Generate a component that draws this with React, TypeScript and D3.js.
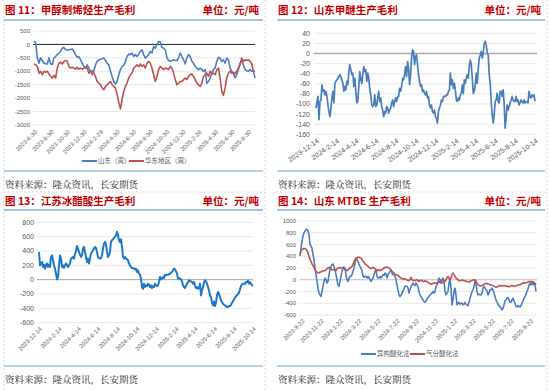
import React from 'react';
import * as d3 from 'd3';

const CJK = '"Noto Sans CJK SC", "Noto Sans", sans-serif';
const TICK_FONT = '"Liberation Sans", "Noto Sans", sans-serif';
const SOURCE = '资料来源：隆众资讯，长安期货';

// 图11 甲醇制烯烃生产毛利
const p1Labels = ['2023-6-30', '2023-8-30', '2023-10-30', '2023-12-30', '2024-2-29', '2024-4-30', '2024-6-30',
  '2024-8-30', '2024-10-30', '2024-12-30', '2025-2-28', '2025-4-30', '2025-6-30', '2025-8-30'];
const p1YTicks = [500, 0, -500, -1000, -1500, -2000, -2500, -3000];
const p1Shandong = [130, 50, -500, -700, -500, -600, -700, -720, -730, -500, -730, -750, -500, -450, -380, -320, -260, -140, -110, -200,
  -210, -200, -190, -170, -260, -380, -480, -450, -570, -700, -820, -880, -760, -880, -1000, -1130, -1000, -760, -630, -580,
  -550, -530, -510, -600, -700, -760, -1000, -1190, -1380, -1480, -1380, -1130, -940, -820, -780, -630, -450, -360, -380, -320,
  -450, -380, -450, -360, -260, -200, -380, -510, -450, -380, -260, -320, -75, -140, -10, 110, 90, -110, -140, -200,
  -500, -600, -630, -600, -570, -600, -600, -500, -320, -450, -570, -730, -500, -380, -450, -630, -700, -820, -880, -940,
  -880, -940, -1000, -940, -1440, -1380, -1250, -1070, -940, -880, -630, -480, -510, -630, -570, -700, -510, -570, -880, -1000,
  -1070, -1250, -1130, -940, -700, -600, -760, -940, -980, -1000, -940, -1000, -980, -1250];
const p1Huadong = [-730, -760, -820, -1070, -1000, -1130, -1000, -1040, -1000, -1100, -1190, -1250, -1150, -1250, -880, -700, -660, -730, -630, -600,
  -630, -820, -880, -850, -880, -920, -850, -920, -880, -920, -880, -850, -880, -1070, -1000, -980, -1070, -1190, -1380, -1440,
  -1500, -1620, -1690, -1560, -1500, -1440, -1380, -1500, -1560, -1620, -1870, -2150, -2400, -2060, -1750, -1560, -1440, -1250, -1130, -1070,
  -880, -820, -760, -820, -730, -820, -760, -880, -700, -630, -700, -880, -1130, -1380, -1190, -940, -820, -880, -940, -880,
  -900, -940, -820, -880, -1070, -1310, -1500, -1440, -1380, -1380, -1310, -1250, -1310, -1190, -1130, -1100, -1190, -1310, -1440, -1500,
  -1560, -1440, -1190, -1130, -1070, -1190, -1000, -1100, -1070, -1130, -940, -880, -1250, -1750, -1900, -1620, -1250, -1070, -1000, -1070,
  -1040, -1100, -1000, -880, -760, -510, -630, -570, -600, -570, -630, -700, -1000, -1000];

// 图12 山东甲醚生产毛利
const p2Labels = ['2023-12-14', '2024-2-14', '2024-4-14', '2024-6-14', '2024-8-14', '2024-10-14', '2024-12-14',
  '2025-2-14', '2025-4-14', '2025-6-14', '2025-8-14', '2025-10-14'];
const p2YTicks = [40, 20, 0, -20, -40, -60, -80, -100, -120, -140, -160];
const p2Margin = [-108, -95, -85, -131, -95, -92, -62, -75, -72, -82, -75, -85, -102, -115, -125, -108, -88, -75, -98, -59,
  -55, -52, -49, -46, -42, -46, -52, -59, -75, -65, -72, -55, -62, -36, -22, -32, -42, -39, -65, -49,
  -75, -98, -95, -65, -36, -52, -59, -42, -26, -36, -32, -55, -39, -49, -69, -82, -102, -105, -102, -82,
  -105, -102, -88, -75, -95, -88, -105, -112, -125, -115, -118, -105, -108, -118, -112, -108, -98, -92, -105, -95,
  -88, -95, -85, -85, -69, -75, -65, -49, -52, -42, -26, -46, -16, -29, -62, -42, -9, 7, 4, -22,
  -6, -3, -22, -42, -55, -65, -62, -75, -72, -79, -82, -75, -88, -85, -102, -108, -102, -115, -118, -112,
  -125, -128, -138, -115, -108, -102, -92, -95, -85, -85, -85, -82, -82, -75, -72, -39, -62, -52, -69, -59,
  -72, -92, -95, -88, -92, -82, -79, -62, -79, -52, -59, -49, -42, -49, -26, -13, -22, -49, -79, -75,
  -62, -39, -59, -29, -9, -3, 4, -9, 1, 20, 24, 17, 1, -3, -42, -59, -95, -121, -138, -121,
  -95, -92, -79, -95, -98, -75, -75, -85, -72, -98, -148, -128, -102, -112, -105, -98, -92, -85, -92, -95,
  -95, -85, -95, -92, -102, -98, -92, -95, -98, -92, -98, -95, -95, -98, -75, -85, -88, -82, -85, -82, -95];

// 图13 江苏冰醋酸生产毛利
const p3Labels = p2Labels;
const p3YTicks = [800, 600, 400, 200, 0, -200, -400, -600];
const p3Margin = [387, 200, 224, 247, 177, 210, 154, 200, 224, 177, 210, 177, 317, 340, 270, 200, 154, 84, 5, 37,
  200, 340, 294, 177, 200, 163, 200, 224, 200, 177, 200, 224, 294, 303, 317, 294, 363, 396, 471, 433,
  387, 350, 317, 340, 433, 457, 387, 317, 247, 294, 224, 294, 363, 387, 410, 433, 457, 443, 387, 317,
  303, 294, 303, 340, 433, 503, 527, 489, 387, 317, 340, 387, 527, 550, 564, 583, 597, 620, 668, 620,
  550, 527, 564, 457, 317, 294, 317, 294, 284, 270, 224, 200, 177, 163, 163, 154, 144, 154, 107, 130,
  84, 70, 14, -103, -126, -56, -103, -79, -89, -56, -70, -103, -79, -117, -89, -103, -56, -79, -89, -79,
  -33, 37, 5, 14, 37, 23, 70, 61, 70, 70, 79, 79, 98, 107, 130, 154, 144, 117, 84, 14,
  23, 14, 5, -23, -79, -103, -117, -89, -56, -33, -9, -23, -23, -33, -56, -33, -79, -117, -103, -126,
  -117, -56, -219, -149, -103, -33, -9, -23, -56, -103, -149, -219, -242, -322, -359, -303, -368, -322, -219, -172,
  -196, -242, -289, -312, -336, -350, -359, -368, -382, -382, -368, -368, -350, -322, -303, -275, -256, -228, -219, -196,
  -182, -135, -89, -65, -56, -56, -61, -33, -33, -14, -56, -33, -56, -79, -89];

// 图14 山东MTBE生产毛利
const p4Labels = ['2023-9-22', '2023-11-22', '2024-1-22', '2024-3-22', '2024-5-22', '2024-7-22', '2024-9-22',
  '2024-11-22', '2025-1-22', '2025-3-22', '2025-5-22', '2025-7-22', '2025-9-22'];
const p4YTicks = [1000, 800, 600, 400, 200, 0, -200, -400, -600];
const p4Isomer = [400, 542, 657, 742, 800, 828, 857, 857, 828, 771, 600, 571, 542, 428, 343, 200, 86, -29, -143, -228,
  -257, -285, -200, -114, -29, 29, 0, -57, -29, 86, 171, 228, 257, 268, 228, 171, 86, 0, -86, -114,
  -29, 57, 143, 211, 211, 200, 86, 0, -29, 29, 57, 57, 86, 143, 200, 285, 371, 343, 314, 268,
  228, 200, 143, 68, 40, 57, 57, 29, 57, 40, 0, -29, 0, 29, 86, 143, 171, 57, 29, 29,
  57, 29, 57, 86, 74, 114, 97, 29, 86, 114, 143, 154, 114, 86, 86, 57, 0, -86, -171, -257,
  -285, -268, -228, -188, -154, -114, -103, -114, -143, -228, -171, -114, -86, -57, -86, -97, -57, -86, -114, -200,
  -257, -285, -314, -343, -371, -383, -360, -325, -303, -285, -257, -245, -228, -200, -228, -200, -114, -86, -29, 29,
  0, -29, 0, 29, -29, -200, -257, -228, -200, -57, 29, -143, -428, -343, -200, -143, -257, -428, -400, -383,
  -417, -400, -400, -428, -417, -383, -417, -428, -440, -383, -314, -257, -200, -171, -114, -29, -57, -200, -257, -245,
  -257, -257, -228, -143, -114, -143, -171, -188, -257, -228, -171, -171, -143, -171, -228, -285, -343, -383, -417, -440,
  -457, -485, -514, -485, -428, -360, -343, -314, -303, -343, -383, -383, -343, -314, -360, -400, -457, -457, -440, -457,
  -457, -440, -400, -360, -314, -285, -245, -200, -154, -97, -57, -86, -29, -86, -57, -86, -200];
const p4GasSep = [428, 497, 514, 525, 531, 531, 520, 497, 457, 400, 343, 314, 268, 245, 211, 171, 143, 131, 114, 114,
  131, 131, 143, 154, 154, 154, 171, 188, 200, 211, 200, 188, 171, 171, 171, 171, 154, 188, 200, 200,
  211, 200, 200, 200, 188, 171, 171, 154, 171, 188, 200, 211, 228, 257, 303, 343, 360, 371, 383, 383,
  371, 371, 343, 314, 303, 268, 257, 245, 228, 211, 200, 188, 200, 211, 200, 188, 171, 171, 154, 171,
  154, 171, 171, 188, 200, 211, 211, 211, 211, 200, 188, 171, 143, 131, 114, 97, 86, 74, 74, 57,
  40, 29, 17, 17, 6, 17, 6, -6, -6, -17, 0, 40, 0, -17, -6, -17, -6, 0, -17, -29,
  -17, -6, -17, -29, -29, -17, -29, -29, -40, -57, -69, -74, -74, -63, -57, -57, -57, -63, -57, -40,
  -29, -57, -57, -29, -17, -29, 0, 40, 57, 29, 0, 29, 86, 114, 86, 57, 29, 17, 0, -17,
  -17, -11, -6, -6, -17, -17, -29, -29, -29, -40, -29, -17, -11, -6, 0, -6, -17, -57, -86, -97,
  -103, -108, -97, -86, -74, -69, -63, -63, -69, -74, -86, -86, -97, -97, -108, -120, -131, -120, -114, -108,
  -97, -97, -108, -103, -97, -103, -108, -108, -114, -120, -114, -103, -97, -108, -114, -108, -103, -97, -86, -86,
  -86, -74, -63, -57, -51, -57, -51, -46, -40, -29, -29, -29, -40, -29, -46, -57, -86];

const parseDate = (s: string) => {
  const [y, m, d] = s.split('-').map(Number);
  return new Date(y, m - 1, d);
};

// spread n points evenly between first and last date
const datesFor = (n: number, start: string, end: string) => {
  const s = parseDate(start).getTime();
  const e = parseDate(end).getTime();
  return d3.range(n).map(i => new Date(s + ((e - s) * i) / (n - 1)));
};

interface Series { values: number[]; color: string; name: string; width: number }

interface PanelProps {
  left: number; right: number; top: number;
  title: string;
  plot: { l: number; r: number; t: number; b: number; gl: number; gr: number };
  yDomain: [number, number]; yTicks: number[]; yLabelX: number; yFont: number;
  dateStart: string; dateEnd: string;
  xLabels: string[]; xLabelY: number; xAngle: number; xFont: number;
  series: Series[];
  zeroColor: string; zeroWidth: number;
  legend?: { y: number; xs: number[] };
  sepY: number; sourceY: number;
}

function Panel(p: PanelProps) {
  const y = d3.scaleLinear().domain(p.yDomain).range([p.plot.b, p.plot.t]);
  const x = d3.scaleTime()
    .domain([parseDate(p.dateStart), parseDate(p.dateEnd)])
    .range([p.plot.l, p.plot.r]);
  const titleY = p.top === 0 ? 14 : p.top + 15;

  return (
    <g>
      <text x={p.left + 1} y={titleY} fontFamily={CJK} fontWeight="bold" fontSize={10.5} fill="#C00000">{p.title}</text>
      <text x={p.right - 4} y={titleY} fontFamily={CJK} fontWeight="bold" fontSize={10.5} fill="#C00000" textAnchor="end">单位：元/吨</text>
      <line x1={p.left} x2={p.right} y1={p.top + 20} y2={p.top + 20} stroke="#9DC3E6" strokeWidth={2} />

      {p.yTicks.filter(t => t !== 0).map(t => (
        <line key={'g' + t} x1={p.plot.gl} x2={p.plot.gr} y1={y(t)} y2={y(t)} stroke="#e3e3e3" strokeWidth={0.8} />
      ))}
      <line x1={p.plot.gl} x2={p.plot.gr} y1={y(0)} y2={y(0)} stroke={p.zeroColor} strokeWidth={p.zeroWidth} />

      {p.yTicks.map(t => (
        <text key={'y' + t} x={p.yLabelX} y={y(t)} dy="0.35em" textAnchor="end" fontFamily={TICK_FONT} fontSize={p.yFont} fill="#595959">{t}</text>
      ))}

      {p.xLabels.map(l => (
        <text key={l} transform={`translate(${x(parseDate(l)) + 2},${p.xLabelY}) rotate(${p.xAngle})`} dy="0.35em" textAnchor="end"
          fontFamily={TICK_FONT} fontSize={p.xFont} fill="#595959">{l}</text>
      ))}

      {p.series.map(s => {
        const dates = datesFor(s.values.length, p.dateStart, p.dateEnd);
        const line = d3.line<number>().x((_, i) => x(dates[i])).y(v => y(v)).curve(d3.curveLinear);
        return <path key={s.name} d={line(s.values) ?? ''} fill="none" stroke={s.color} strokeWidth={s.width} strokeLinejoin="round" />;
      })}

      {p.legend && p.series.map((s, i) => (
        <g key={'lg' + s.name}>
          <line x1={p.legend!.xs[i]} x2={p.legend!.xs[i] + 15} y1={p.legend!.y} y2={p.legend!.y} stroke={s.color} strokeWidth={2} />
          <text x={p.legend!.xs[i] + 16} y={p.legend!.y} dy="0.35em" fontFamily={CJK} fontSize={6.5} fill="#595959">{s.name}</text>
        </g>
      ))}

      <line x1={p.left} x2={p.right} y1={p.sepY} y2={p.sepY} stroke="#9DC3E6" strokeWidth={1.5} />
      <text x={p.left + 1} y={p.sourceY} fontFamily={'"Noto Serif CJK SC", serif'} fontSize={9.5} fill="#262626">{SOURCE}</text>
    </g>
  );
}

export default function App() {
  return (
    <svg width={550} height={391} style={{ position: 'absolute', left: 0, top: 0, background: '#fff' }}>
      {/* dashed panel frames */}
      <g stroke="#cfcfcf" strokeWidth={0.8} strokeDasharray="2,2">
        <line x1={4} x2={4} y1={0} y2={391} />
        <line x1={265} x2={265} y1={0} y2={391} />
        <line x1={547} x2={547} y1={0} y2={391} />
        <line x1={4} x2={265} y1={192} y2={192} />
        <line x1={276} x2={547} y1={192} y2={192} />
      </g>

      <Panel left={4} right={263} top={0} title="图 11：甲醇制烯烃生产毛利"
        plot={{ l: 34, r: 255, t: 31, b: 125, gl: 33, gr: 255 }}
        yDomain={[-3000, 500]} yTicks={p1YTicks} yLabelX={30} yFont={6}
        dateStart="2023-6-30" dateEnd="2025-9-24"
        xLabels={p1Labels} xLabelY={131} xAngle={-45} xFont={6}
        series={[
          { values: p1Shandong, color: '#4A7EC4', name: '山东（周）', width: 1.6 },
          { values: p1Huadong, color: '#C0504D', name: '华东地区（周）', width: 1.6 },
        ]}
        zeroColor="#262626" zeroWidth={1}
        legend={{ y: 161, xs: [82, 129] }}
        sepY={171} sourceY={188} />

      <Panel left={277} right={545} top={0} title="图 12：山东甲醚生产毛利"
        plot={{ l: 316, r: 535, t: 33.3, b: 134.3, gl: 314, gr: 537 }}
        yDomain={[-160, 40]} yTicks={p2YTicks} yLabelX={310} yFont={7}
        dateStart="2023-12-14" dateEnd="2025-10-14"
        xLabels={p2Labels} xLabelY={140} xAngle={-35} xFont={7}
        series={[{ values: p2Margin, color: '#4A7EBB', name: '山东甲醚', width: 1.7 }]}
        zeroColor="#a6a6a6" zeroWidth={1.6}
        sepY={171} sourceY={188} />

      <Panel left={4} right={263} top={190} title="图 13：江苏冰醋酸生产毛利"
        plot={{ l: 39, r: 253, t: 222.3, b: 322.7, gl: 37, gr: 253 }}
        yDomain={[-600, 800]} yTicks={p3YTicks} yLabelX={34} yFont={7}
        dateStart="2023-12-14" dateEnd="2025-10-14"
        xLabels={p3Labels} xLabelY={328} xAngle={-45} xFont={6}
        series={[{ values: p3Margin, color: '#1F77C8', name: '江苏冰醋酸', width: 2 }]}
        zeroColor="#a6a6a6" zeroWidth={1}
        sepY={366} sourceY={383} />

      <Panel left={277} right={545} top={190} title="图 14：山东 MTBE 生产毛利"
        plot={{ l: 300, r: 536, t: 221, b: 315, gl: 300, gr: 537 }}
        yDomain={[-600, 1000]} yTicks={p4YTicks} yLabelX={296} yFont={6}
        dateStart="2023-9-17" dateEnd="2025-10-11"
        xLabels={p4Labels} xLabelY={320} xAngle={-45} xFont={6}
        series={[
          { values: p4Isomer, color: '#4A7EC4', name: '异构醚化法', width: 1.6 },
          { values: p4GasSep, color: '#C0504D', name: '气分醚化法', width: 1.6 },
        ]}
        zeroColor="#bfbfbf" zeroWidth={1}
        legend={{ y: 354, xs: [361, 410] }}
        sepY={366} sourceY={383} />
    </svg>
  );
}
